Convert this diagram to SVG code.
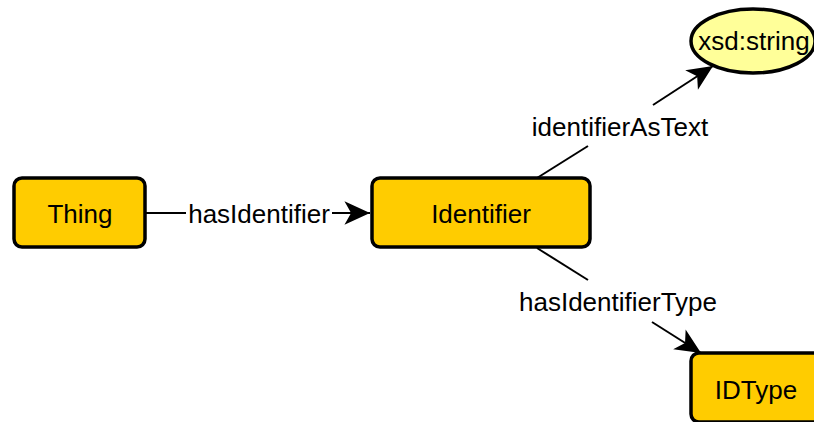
<svg xmlns="http://www.w3.org/2000/svg" width="814" height="422" viewBox="0 0 814 422">
  <style>
    .cls rect { fill: #ffcc00; stroke: #000; stroke-width: 3.5; }
    .lit ellipse { fill: #ffff99; stroke: #000; stroke-width: 3.5; }
    .node text { font-family: "Liberation Sans", Arial, sans-serif; font-size: 26px; fill: #000; text-anchor: middle; }
    .edge line { stroke: #000; stroke-width: 2; }
    .edge text { font-family: "Liberation Sans", Arial, sans-serif; font-size: 26px; fill: #000; text-anchor: middle; }
  </style>
  <defs>
    <marker id="arrow" markerUnits="userSpaceOnUse" markerWidth="30" markerHeight="30" viewBox="-25 -12 27 24" refX="0" refY="0" orient="auto">
      <path d="M0,0 L-23,-10.5 L-17,0 L-23,10.5 Z" fill="#000"/>
    </marker>
  </defs>
  <rect width="814" height="422" fill="#fff"/>

  <!-- connectors -->
  <g id="edges" class="edge">
    <line x1="145" y1="213" x2="186" y2="213"/>
    <line x1="332" y1="213" x2="370" y2="213" marker-end="url(#arrow)"/>
    <text x="259" y="223">hasIdentifier</text>

    <line x1="537" y1="178" x2="588" y2="146"/>
    <line x1="653" y1="105" x2="713" y2="66" marker-end="url(#arrow)"/>
    <text x="620" y="136">identifierAsText</text>

    <line x1="537" y1="248" x2="588" y2="280"/>
    <line x1="652" y1="322" x2="701" y2="353" marker-end="url(#arrow)"/>
    <text x="618" y="311">hasIdentifierType</text>
  </g>

  <!-- nodes -->
  <g id="thing" class="node cls">
    <rect x="14" y="178" width="131" height="69" rx="8"/>
    <text x="80" y="223">Thing</text>
  </g>
  <g id="identifier" class="node cls">
    <rect x="372" y="178" width="218" height="69" rx="8"/>
    <text x="481" y="223">Identifier</text>
  </g>
  <g id="idtype" class="node cls">
    <rect x="691" y="353" width="131" height="69" rx="8"/>
    <text x="756" y="399">IDType</text>
  </g>
  <g id="xsd-string" class="node lit">
    <ellipse cx="753" cy="41" rx="62" ry="32"/>
    <text x="754" y="50">xsd:string</text>
  </g>
</svg>
